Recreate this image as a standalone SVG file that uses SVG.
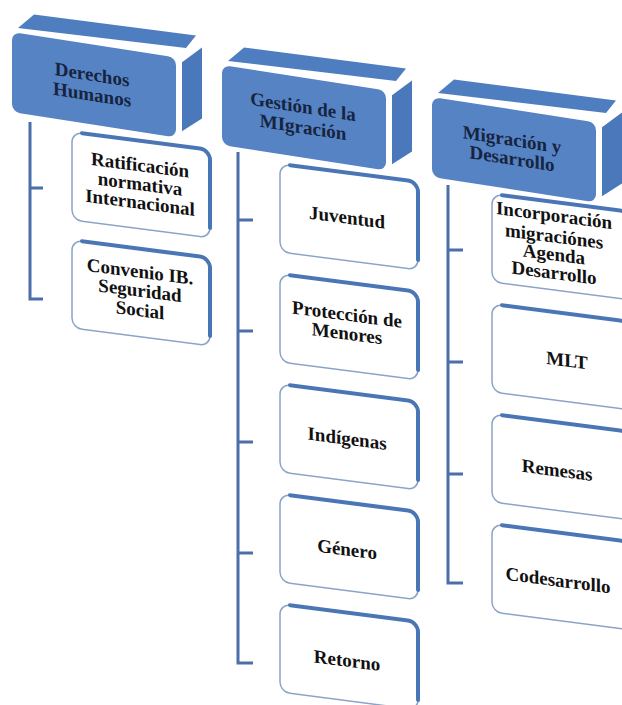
<svg xmlns="http://www.w3.org/2000/svg" width="622" height="705" viewBox="0 0 622 705">
<style>
.front{fill:#5583c4}
.top{fill:#4f7ec0}
.side{fill:#4a78ba}
.htxt{font-family:"Liberation Serif","Times New Roman",serif;font-weight:bold;font-size:19px;fill:#17243f;text-anchor:middle}
.box{fill:#ffffff;stroke:#8aa3c6;stroke-width:1.5}
.edge{fill:none;stroke:#4a76b5;stroke-width:4;stroke-linecap:round}
.ctxt{font-family:"Liberation Serif","Times New Roman",serif;font-weight:bold;font-size:19px;fill:#111111;text-anchor:middle}
.conn{fill:none;stroke:#4b6fa8;stroke-width:3}
</style>
<defs>
<g id="hdr">
<polygon class="top" points="6,-5 174,-11 184,-25 22,-21"/>
<polygon class="side" points="170,4 170,73 190,57 190,-14"/>
<rect class="front" x="0" y="0" width="164" height="80" rx="8"/>
</g>
<g id="cbox">
<rect class="box" x="0" y="0" width="138" height="88" rx="10"/>
<path class="edge" d="M10,0 H128 A10,10 0 0 1 138,10 V78"/>
</g>
</defs>
<rect width="622" height="705" fill="#ffffff"/>
<g id="connectors">
<path class="conn" d="M30,122 V299 H43 M30,188 H43"/>
<path class="conn" d="M238,152 V663 H253 M238,220 H253 M238,331 H253 M238,442 H253 M238,553 H253"/>
<path class="conn" d="M448,185 V583 H463 M448,250 H463 M448,362 H463 M448,474 H463"/>
</g>
<g id="h1" transform="translate(12,32) skewY(8.8)">
<use href="#hdr"/>
<text class="htxt" x="80" y="36.5">Derechos</text>
<text class="htxt" x="80" y="56.5">Humanos</text>
</g>
<g id="h2" transform="translate(222,65) skewY(8.8)">
<use href="#hdr"/>
<text class="htxt" x="81" y="35.5">Gestión de la</text>
<text class="htxt" x="81" y="56">MIgración</text>
</g>
<g id="h3" transform="translate(432,97) skewY(8.8)">
<use href="#hdr"/>
<text class="htxt" x="80" y="36.5">Migración y</text>
<text class="htxt" x="80" y="55.5">Desarrollo</text>
</g>
<g id="c1a" transform="translate(72,132) skewY(7.4)">
<use href="#cbox"/>
<text class="ctxt" x="68" y="30.5">Ratificación</text>
<text class="ctxt" x="68" y="49.5">normativa</text>
<text class="ctxt" x="68" y="68">Internacional</text>
</g>
<g id="c1b" transform="translate(72,240) skewY(7.4)">
<use href="#cbox"/>
<text class="ctxt" x="68" y="29">Convenio IB.</text>
<text class="ctxt" x="68" y="48">Seguridad</text>
<text class="ctxt" x="68" y="67.5">Social</text>
</g>
<g id="c2a" transform="translate(280,164) skewY(7.4)">
<use href="#cbox"/>
<text class="ctxt" x="67" y="51">Juventud</text>
</g>
<g id="c2b" transform="translate(280,274) skewY(7.4)">
<use href="#cbox"/>
<text class="ctxt" x="67" y="38">Protección de</text>
<text class="ctxt" x="67" y="57">Menores</text>
</g>
<g id="c2c" transform="translate(280,384) skewY(7.4)">
<use href="#cbox"/>
<text class="ctxt" x="67" y="52">Indígenas</text>
</g>
<g id="c2d" transform="translate(280,494) skewY(7.4)">
<use href="#cbox"/>
<text class="ctxt" x="67" y="53">Género</text>
</g>
<g id="c2e" transform="translate(280,604) skewY(7.4)">
<use href="#cbox"/>
<text class="ctxt" x="67" y="54">Retorno</text>
</g>
<g id="c3a" transform="translate(492,194) skewY(7.4)">
<use href="#cbox"/>
<text class="ctxt" x="62" y="19.5">Incorporación</text>
<text class="ctxt" x="62" y="40.5">migraciónes</text>
<text class="ctxt" x="62" y="58.5">Agenda</text>
<text class="ctxt" x="62" y="77">Desarrollo</text>
</g>
<g id="c3b" transform="translate(492,304) skewY(7.4)">
<use href="#cbox"/>
<text class="ctxt" x="75" y="53">MLT</text>
</g>
<g id="c3c" transform="translate(492,414) skewY(7.4)">
<use href="#cbox"/>
<text class="ctxt" x="65" y="54">Remesas</text>
</g>
<g id="c3d" transform="translate(492,524) skewY(7.4)">
<use href="#cbox"/>
<text class="ctxt" x="66" y="54">Codesarrollo</text>
</g>
</svg>
